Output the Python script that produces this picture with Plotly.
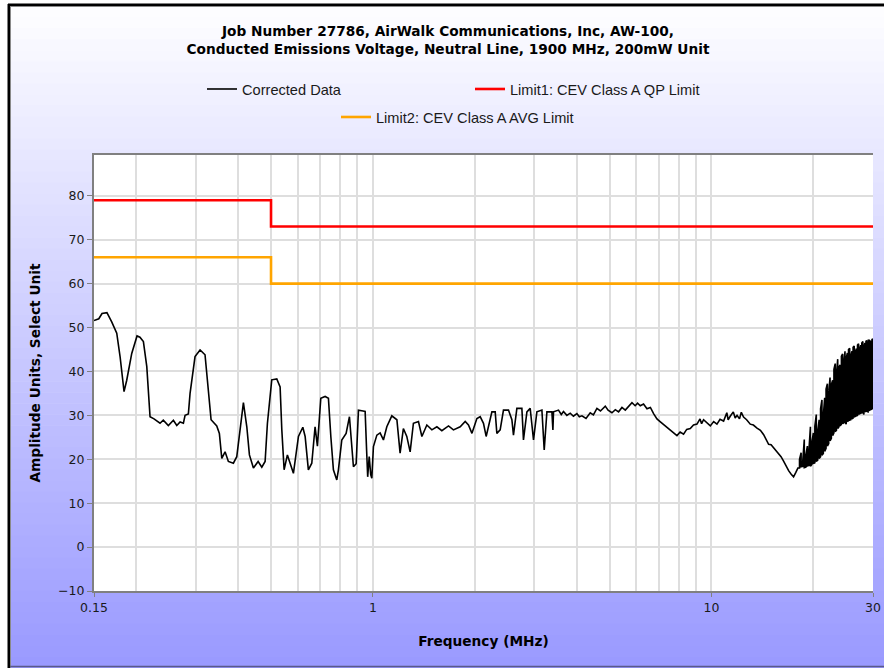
import plotly.graph_objects as go

# ---------------- data ----------------
title_lines = ["Job Number 27786, AirWalk Communications, Inc, AW-100,",
               "Conducted Emissions Voltage, Neutral Line, 1900 MHz, 200mW Unit"]
x_title = "Frequency (MHz)"
y_title = "Amplitude Units, Select Unit"

x_tick_vals = [0.15, 1, 10, 30]
x_tick_text = ["0.15", "1", "10", "30"]
x_minor_grid = [0.2, 0.3, 0.4, 0.5, 0.6, 0.7, 0.8, 0.9,
                2, 3, 4, 5, 6, 7, 8, 9, 20]
y_tick_vals = [-10, 0, 10, 20, 30, 40, 50, 60, 70, 80]

limit_freq = [0.15, 0.5, 30]
limit1_qp = [79, 73, 73]
limit2_avg = [66, 60, 60]

# corrected data, 0.15 - 18 MHz
freq_mhz = [
    0.150, 0.155, 0.1584, 0.1638, 0.1692, 0.1751, 0.1791, 0.1840, 0.1874, 0.1939,
    0.2010, 0.2050, 0.2099, 0.2148, 0.2196, 0.2256, 0.2350, 0.2403, 0.2487, 0.2574,
    0.2634, 0.2694, 0.2755, 0.2787, 0.2850, 0.2883, 0.2982, 0.3086, 0.3192, 0.3265,
    0.3326, 0.3457, 0.3519, 0.3577, 0.3658, 0.3741, 0.3871, 0.3961, 0.4052, 0.4144,
    0.4241, 0.4317, 0.4436, 0.4580, 0.4696, 0.4803, 0.4879, 0.5025, 0.5200, 0.5319,
    0.5381, 0.5466, 0.5589, 0.5693, 0.5823, 0.6025, 0.6208, 0.6306, 0.6446, 0.6598,
    0.6747, 0.6855, 0.7015, 0.7223, 0.7388, 0.7510, 0.7643, 0.7821, 0.7908, 0.8091,
    0.8333, 0.8524, 0.8662, 0.8758, 0.8922, 0.9062, 0.9355, 0.9484, 0.9580, 0.9650,
    0.9750, 0.9850, 0.9925, 1.0034, 1.027, 1.050, 1.074, 1.099, 1.137, 1.177,
    1.203, 1.230, 1.259, 1.288, 1.317, 1.363, 1.395, 1.443, 1.493, 1.545,
    1.598, 1.672, 1.729, 1.810, 1.873, 1.915, 1.961, 2.028, 2.074, 2.121,
    2.160, 2.246, 2.297, 2.323, 2.376, 2.430, 2.514, 2.573, 2.601, 2.662,
    2.754, 2.784, 2.850, 2.914, 2.981, 3.050, 3.156, 3.206, 3.265, 3.378,
    3.401, 3.415, 3.533, 3.60, 3.655, 3.74, 3.826, 3.91, 4.004, 4.07,
    4.143, 4.26, 4.384, 4.48, 4.588, 4.70, 4.856, 4.95, 5.082, 5.20,
    5.316, 5.44, 5.564, 5.69, 5.823, 5.95, 6.05, 6.161, 6.30, 6.449,
    6.60, 6.745, 6.902, 7.05, 7.220, 7.40, 7.556, 7.73, 7.908, 8.08,
    8.271, 8.45, 8.657, 8.85, 9.061, 9.25, 9.35, 9.478, 9.70, 9.920,
    10.15, 10.38, 10.60, 10.86, 11.10, 11.20, 11.36, 11.60, 11.75, 11.90,
    12.10, 12.25, 12.44, 12.70, 13.02, 13.30, 13.63, 13.95, 14.26, 14.50,
    14.75, 15.00, 15.26, 15.50, 15.79, 16.05, 16.33, 16.60, 16.90, 17.20,
    17.48, 17.75, 18.0,
]
corrected_data = [
    51.6, 52.0, 53.2, 53.4, 51.3, 48.7, 43.4, 35.4, 38.0, 44.1,
    48.1, 47.8, 46.8, 41.1, 29.7, 29.2, 28.2, 28.9, 27.7, 28.9,
    27.7, 28.5, 28.2, 30.0, 30.3, 35.0, 43.4, 44.9, 43.8, 36.5,
    29.0, 27.6, 25.9, 20.2, 21.7, 19.5, 19.1, 20.6, 27.4, 32.9,
    27.4, 21.0, 18.0, 19.5, 18.2, 19.5, 28.2, 38.1, 38.3, 36.5,
    26.7, 17.6, 21.0, 19.1, 16.8, 25.2, 27.3, 25.2, 17.6, 19.1,
    27.4, 23.0, 33.9, 34.3, 33.9, 25.2, 17.6, 15.3, 17.6, 24.4,
    25.9, 29.7, 23.0, 18.3, 19.0, 31.2, 31.0, 30.9, 22.0, 16.0,
    20.6, 16.5, 15.7, 22.9, 25.5, 26.0, 24.4, 27.4, 29.9, 29.0,
    21.4, 27.0, 25.2, 21.7, 28.2, 28.6, 25.2, 27.8, 26.7, 27.4,
    26.5, 27.6, 26.7, 27.4, 28.6, 27.8, 25.9, 29.3, 29.7, 28.2,
    25.2, 30.8, 30.8, 25.9, 26.7, 31.2, 31.2, 29.0, 25.5, 31.6,
    31.6, 24.4, 30.8, 31.6, 24.4, 30.8, 31.2, 22.1, 30.8, 30.8,
    26.7, 30.8, 31.2, 30.2, 30.9, 30.0, 30.5, 29.8, 30.4, 29.7,
    29.9, 29.3, 30.6, 30.1, 31.6, 31.0, 32.1, 31.2, 30.6, 31.3,
    30.8, 31.8, 31.2, 32.0, 32.9, 32.2, 32.8, 32.2, 32.6, 31.5,
    31.8, 30.4, 29.2, 28.6, 27.9, 27.2, 26.6, 26.0, 25.4, 26.2,
    25.7, 26.8, 27.0, 27.8, 28.0, 29.2, 28.1, 29.0, 28.2, 27.6,
    28.6, 28.0, 29.1, 28.7, 30.6, 29.0, 29.8, 30.8, 29.4, 30.0,
    29.2, 30.7, 29.6, 29.0, 28.0, 27.8, 27.1, 26.6, 25.6, 24.6,
    23.4, 23.3, 22.6, 22.0, 21.2, 20.6, 19.6, 18.4, 17.4, 16.6,
    16.0, 17.0, 18.0,
]
# dense oscillating part, 18.2 - 30 MHz: lower and upper extremes of each swing
dense_freq = [
    18.2, 18.4, 18.6, 18.8, 19.0, 19.2, 19.4, 19.6, 19.8, 20.0,
    20.2, 20.4, 20.6, 20.8, 21.0, 21.2, 21.4, 21.6, 21.8, 22.0,
    22.2, 22.4, 22.6, 22.8, 23.0, 23.2, 23.4, 23.6, 23.8, 24.0,
    24.2, 24.4, 24.6, 24.8, 25.0, 25.2, 25.4, 25.6, 25.8, 26.0,
    26.2, 26.4, 26.6, 26.8, 27.0, 27.2, 27.4, 27.6, 27.8, 28.0,
    28.2, 28.4, 28.6, 28.8, 29.0, 29.2, 29.4, 29.6, 29.8, 30.0,
]
dense_low = [
    18.0, 18.3, 18.4, 18.1, 18.2, 18.5, 18.6, 18.4, 18.8, 19.0,
    19.2, 19.5, 19.8, 20.2, 20.6, 20.9, 21.3, 21.8, 22.5, 23.0,
    23.6, 24.2, 24.8, 25.4, 26.0, 26.3, 26.6, 27.0, 27.4, 27.6,
    28.0, 28.1, 28.3, 28.5, 28.0, 28.6, 28.8, 28.9, 29.0, 29.2,
    29.4, 29.6, 29.8, 29.9, 30.0, 30.2, 30.4, 30.5, 30.6, 30.7,
    30.2, 30.8, 31.0, 30.9, 30.8, 31.1, 31.2, 31.3, 31.5, 31.4,
]
dense_high = [
    20.0, 21.5, 19.5, 24.5, 21.0, 23.0, 22.0, 27.4, 24.0, 26.0,
    27.5, 30.2, 26.5, 29.0, 31.5, 33.5, 30.0, 34.0, 36.0, 37.2,
    35.0, 38.6, 37.0, 38.0, 40.5, 41.8, 39.5, 42.8, 41.0, 41.5,
    43.5, 44.0, 42.0, 44.6, 43.0, 44.2, 45.0, 45.3, 43.5, 44.6,
    45.5, 45.8, 44.5, 45.2, 46.0, 46.3, 45.0, 46.0, 46.5, 46.8,
    45.5, 46.5, 46.9, 47.0, 46.0, 47.3, 47.0, 46.8, 47.4, 47.2,
]
assert len(freq_mhz) == len(corrected_data)
assert len(dense_freq) == len(dense_low) == len(dense_high)

# one continuous trace: smooth part followed by vertical swings
trace_x = list(freq_mhz)
trace_y = list(corrected_data)
for i, f in enumerate(dense_freq):
    pair = (dense_low[i], dense_high[i]) if i % 2 == 0 else (dense_high[i], dense_low[i])
    trace_x += [f, f]
    trace_y += list(pair)

# ---------------- figure geometry (pixels) ----------------
W, H = 884, 668
ML, MR, MT, MB = 94, 11, 155, 77
PW, PH = W - ML - MR, H - MT - MB


def px_x(p):
    return (p - ML) / PW


def px_y(p):
    return (H - MB - p) / PH


fig = go.Figure()

fig.add_trace(go.Scatter(x=trace_x, y=trace_y, mode="lines",
                         name="Corrected Data",
                         line=dict(color="#000000", width=1.6),
                         legend="legend"))
fig.add_trace(go.Scatter(x=limit_freq, y=limit1_qp, mode="lines",
                         name="Limit1: CEV Class A QP Limit",
                         line=dict(color="#ff0000", width=2.6, shape="hv"),
                         legend="legend"))
fig.add_trace(go.Scatter(x=limit_freq, y=limit2_avg, mode="lines",
                         name="Limit2: CEV Class A AVG Limit",
                         line=dict(color="#ffa500", width=2.6, shape="hv"),
                         legend="legend2"))

# background: vertical gradient white -> periwinkle inside a black frame
shapes = []
top_px, bot_px, left_px = 6, 668, 10
nb = 60
for i in range(nb):
    y0p = top_px + (bot_px - top_px) * i / nb
    y1p = top_px + (bot_px - top_px) * (i + 1) / nb
    t = ((y0p + y1p) / 2) / H
    c = int(round(255 - t * 102))
    shapes.append(dict(type="rect", xref="paper", yref="paper", layer="below",
                       x0=px_x(left_px), x1=px_x(W + 2), y0=px_y(y1p + 0.6), y1=px_y(y0p),
                       line=dict(width=0), fillcolor=f"rgb({c},{c},255)"))
# white plotting area
shapes.append(dict(type="rect", xref="paper", yref="paper", layer="below",
                   x0=0, x1=1, y0=0, y1=1, line=dict(width=0), fillcolor="#ffffff"))
# frame lines
shapes.append(dict(type="line", xref="paper", yref="paper", layer="below",
                   x0=px_x(9), x1=px_x(9), y0=px_y(H + 2), y1=px_y(4),
                   line=dict(color="#000000", width=3)))
shapes.append(dict(type="line", xref="paper", yref="paper", layer="below",
                   x0=px_x(8), x1=px_x(W + 2), y0=px_y(5), y1=px_y(5),
                   line=dict(color="#000000", width=3)))
shapes.append(dict(type="line", xref="paper", yref="paper", layer="below",
                   x0=px_x(10.5), x1=px_x(10.5), y0=px_y(H), y1=px_y(6),
                   line=dict(color="#8a8a8a", width=1)))
shapes.append(dict(type="line", xref="paper", yref="paper", layer="below",
                   x0=px_x(10), x1=px_x(W + 2), y0=px_y(6.5), y1=px_y(6.5),
                   line=dict(color="#8a8a8a", width=1)))
shapes.append(dict(type="line", xref="paper", yref="paper", layer="below",
                   x0=px_x(10), x1=px_x(W + 2), y0=px_y(666.5), y1=px_y(666.5),
                   line=dict(color="#5a5a8a", width=1.5)))

tick_font = dict(family="DejaVu Sans", size=12.5, color="#1a1a1a")
title_font = dict(family="DejaVu Sans", size=13.7, color="#000000", weight="bold")
axis_title_font = dict(family="DejaVu Sans", size=13.7, color="#000000", weight="bold")
legend_font = dict(family="Liberation Sans", size=14.6, color="#1a1a1a")

fig.update_layout(
    width=W, height=H,
    margin=dict(l=ML, r=MR, t=MT, b=MB, autoexpand=False),
    paper_bgcolor="#ffffff",
    plot_bgcolor="#ffffff",
    shapes=shapes,
    title=dict(text="<br>".join(title_lines), x=448 / W, xref="container",
               xanchor="center", y=1 - 36 / H, yref="container", yanchor="top",
               font=title_font),
    legend=dict(orientation="h", xref="container", yref="container",
                x=202 / W, xanchor="left", y=1 - 89 / H, yanchor="middle",
                entrywidth=223, entrywidthmode="pixels",
                bgcolor="rgba(0,0,0,0)", borderwidth=0, font=legend_font),
    legend2=dict(orientation="h", xref="container", yref="container",
                 x=336 / W, xanchor="left", y=1 - 117 / H, yanchor="middle",
                 bgcolor="rgba(0,0,0,0)", borderwidth=0, font=legend_font),
    xaxis=dict(type="log", range=[-0.82391, 1.47712],
               tickmode="array", tickvals=x_tick_vals, ticktext=x_tick_text,
               ticks="outside", ticklen=4, tickwidth=1, tickcolor="#808080",
               tickfont=tick_font,
               showgrid=True, gridcolor="#dedede", gridwidth=1.5,
               minor=dict(tickmode="array", tickvals=x_minor_grid, showgrid=True,
                          gridcolor="#dedede", gridwidth=1.5, ticks=""),
               showline=True, linecolor="#808080", linewidth=2, mirror=True,
               zeroline=False,
               title=dict(text=x_title, font=axis_title_font, standoff=22)),
    yaxis=dict(range=[-10, 89.3], tickmode="array", tickvals=y_tick_vals,
               ticks="outside", ticklen=5, tickwidth=1, tickcolor="#808080",
               tickfont=tick_font,
               showgrid=True, gridcolor="#dedede", gridwidth=1.5,
               showline=True, linecolor="#808080", linewidth=2,
               zeroline=False,
               title=dict(text=y_title, font=axis_title_font, standoff=14)),
)

fig.write_html("out.html",
               config={"displayModeBar": False},
               post_script="document.body.style.margin='0px';"
                           "document.body.style.overflow='hidden';")
